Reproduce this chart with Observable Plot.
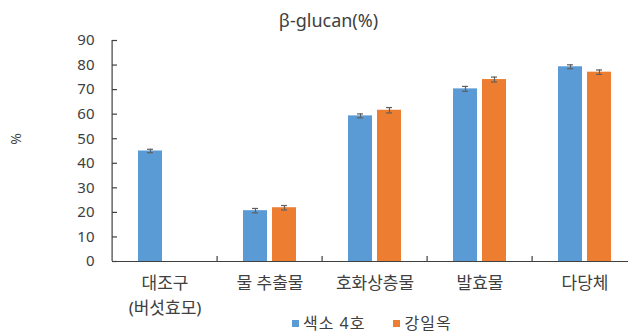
<!DOCTYPE html>
<html>
<head>
<meta charset="utf-8">
<script src="https://cdn.jsdelivr.net/npm/d3@7"></script>
<script src="https://cdn.jsdelivr.net/npm/@observablehq/plot@0.6"></script>
<style>
  body { margin: 0; background: #fff; }
  #wrap {
    position: relative; width: 628px; height: 333px; overflow: hidden;
    padding-top: 34px; box-sizing: border-box;
    font-family: "Noto Sans", "Noto Sans CJK KR", sans-serif; color: #404040;
  }
  #title {
    position: absolute; top: 11px; left: 0; width: 657px; text-align: center;
    font-size: 18px; line-height: 18px; color: #404040;
  }
  #legend {
    position: absolute; top: 315px; left: 292px; height: 17px;
    display: flex; align-items: center; font-size: 16px; color: #404040;
  }
  #legend .item { display: flex; align-items: center; margin-right: 28px; }
  #legend .sw { width: 7px; height: 7px; margin-right: 4px; }
  #legend .lb { display: inline-block; height: 17px; line-height: 17px; overflow: visible; letter-spacing: 1px; }
</style>
</head>
<body>
<div id="wrap">
  <div id="title">β-glucan(%)</div>
  <div id="chart"></div>
  <div id="legend"></div>
</div>
<script>
// Sample groups (x axis) and the two varieties
const categories = ["대조구\n(버섯효모)", "물 추출물", "호화상층물", "발효물", "다당체"];
const series = ["색소 4호", "강일옥"];
const colors = ["#5B9BD5", "#ED7D31"];

// β-glucan content (%) and standard error per group
const values4ho = [45.0, 20.7, 59.3, 70.3, 79.3];
const err4ho = [0.7, 0.9, 0.8, 1.0, 0.8];
const valuesGangilok = [null, 21.9, 61.6, 74.1, 77.1];
const errGangilok = [null, 0.9, 1.1, 1.0, 0.9];

const yTicks = [0, 10, 20, 30, 40, 50, 60, 70, 80, 90];

const rows = [];
categories.forEach((c, i) => {
  if (values4ho[i] != null) rows.push({category: c, series: series[0], value: values4ho[i], err: err4ho[i]});
  if (valuesGangilok[i] != null) rows.push({category: c, series: series[1], value: valuesGangilok[i], err: errGangilok[i]});
});

const width = 628, marginLeft = 110, marginRight = -11;
const step = (width - marginLeft - marginRight) / categories.length;
const font = '"Noto Sans", "Noto Sans CJK KR", sans-serif';

const chart = Plot.plot({
  width,
  height: 284,
  marginLeft,
  marginRight,
  marginTop: 6,
  marginBottom: 57,
  style: {fontFamily: font, fontSize: "15px", color: "#404040", background: "transparent", overflow: "visible"},
  fx: {domain: categories, padding: 0, axis: null},
  x: {domain: series, paddingInner: 1 / 6, paddingOuter: 0.85, axis: null},
  y: {domain: [0, 90], axis: null},
  color: {domain: series, range: colors},
  marks: [
    Plot.barY(rows, {fx: "category", x: "series", y: "value", fill: "series"}),
    // error bars
    Plot.ruleX(rows, {fx: "category", x: "series", y1: d => d.value - d.err, y2: d => d.value + d.err, stroke: "#5f5f5f", strokeWidth: 1.2}),
    Plot.tickY(rows, {fx: "category", x: "series", y: d => d.value - d.err, stroke: "#5f5f5f", strokeWidth: 1.2, inset: 9}),
    Plot.tickY(rows, {fx: "category", x: "series", y: d => d.value + d.err, stroke: "#5f5f5f", strokeWidth: 1.2, inset: 9}),
    // baseline
    Plot.ruleY([0], {stroke: "#404040", strokeWidth: 1.2}),
    // y axis line
    Plot.ruleX([categories[0]], {fx: d => d, x: null, y1: 0, y2: 90, dx: -step / 2, stroke: "#404040", strokeWidth: 1.2}),
    // category boundary ticks
    Plot.ruleX(categories.slice(1), {fx: d => d, x: null, y1: 0, y2: 2, dx: -step / 2, stroke: "#404040", strokeWidth: 1.2}),
    Plot.axisY({ticks: yTicks, label: null, tickSize: -5, tickPadding: 23, stroke: "#404040", strokeWidth: 1.2, fill: "#404040", fontSize: 15}),
    // category labels
    Plot.text(categories, {fx: d => d, y: 0, text: d => d, lineAnchor: "top", dy: 10, lineHeight: 1.47, fontSize: 17, fill: "#404040"}),
    // y label
    Plot.text(["%"], {fx: () => categories[0], frameAnchor: "left", y: 47.5, rotate: -90, dx: -96, fontSize: 14, fill: "#404040"})
  ]
});
document.getElementById("chart").appendChild(chart);

const legend = document.getElementById("legend");
series.forEach((s, i) => {
  const item = document.createElement("div");
  item.className = "item";
  const sw = document.createElement("span");
  sw.className = "sw";
  sw.style.background = colors[i];
  const label = document.createElement("span");
  label.className = "lb";
  label.textContent = s;
  item.append(sw, label);
  legend.appendChild(item);
});
</script>
</body>
</html>
